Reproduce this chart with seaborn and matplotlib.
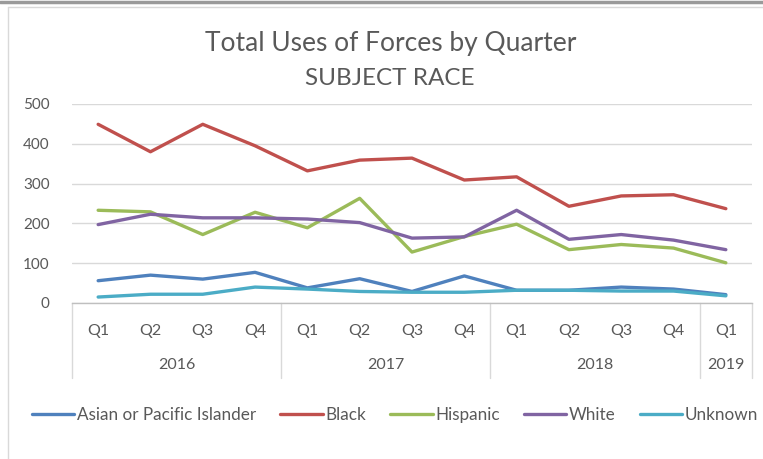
import matplotlib
matplotlib.use("Agg")
import matplotlib.pyplot as plt
import matplotlib.transforms as mtransforms
import pandas as pd
import seaborn as sns

quarters = ["Q1", "Q2", "Q3", "Q4"] * 3 + ["Q1"]
years = ["2016", "2017", "2018", "2019"]
year_sizes = [4, 4, 4, 1]

asian = [56, 70, 60, 77, 38, 61, 29, 68, 32, 32, 40, 35, 21]
black = [449, 380, 449, 395, 332, 359, 364, 309, 317, 243, 269, 272, 237]
hispanic = [233, 229, 172, 228, 189, 263, 128, 167, 198, 134, 147, 138, 101]
white = [197, 223, 214, 214, 211, 202, 163, 166, 233, 160, 172, 158, 134]
unknown = [15, 22, 22, 40, 35, 29, 27, 27, 32, 32, 30, 30, 18]

races = ["Asian or Pacific Islander", "Black", "Hispanic", "White", "Unknown"]
colors = ["#4F81BD", "#C0504D", "#9BBB59", "#8064A2", "#4BACC6"]

rows = []
for race, vals in zip(races, [asian, black, hispanic, white, unknown]):
    for i, v in enumerate(vals):
        rows.append({"idx": i, "count": v, "race": race})
df = pd.DataFrame(rows)

sns.set_theme(style="white")
plt.rcParams["font.family"] = ["Lato", "DejaVu Sans"]
txt = "#595959"

W, H = 763, 459
fig = plt.figure(figsize=(W / 100, H / 100), dpi=100)
fig.patch.set_facecolor("white")

# spreadsheet frame bits
fig.add_artist(plt.Line2D([0, 1], [1 - 1.5 / H, 1 - 1.5 / H], color="#9a9a9a", lw=2.5))
fig.add_artist(plt.Line2D([7.5 / W, 7.5 / W], [0, 1 - 7 / H], color="#d9d9d9", lw=1))
fig.add_artist(plt.Line2D([7.5 / W, 1], [1 - 7 / H, 1 - 7 / H], color="#d9d9d9", lw=1))

ax = fig.add_axes([72 / W, 1 - 303 / H, 680 / W, 199 / H])
sns.lineplot(data=df, x="idx", y="count", hue="race", hue_order=races,
             palette=dict(zip(races, colors)), linewidth=2.4, ax=ax, legend=True)

ax.set_xlim(-0.5, 12.5)
ax.set_ylim(0, 500)
ax.set_yticks(range(0, 501, 100))
ax.yaxis.grid(True, color="#d9d9d9", lw=1)
ax.set_axisbelow(True)
for s in ["top", "right", "left"]:
    ax.spines[s].set_visible(False)
ax.spines["bottom"].set_color("#bfbfbf")
ax.spines["bottom"].set_linewidth(1)
ax.tick_params(axis="y", length=0, labelsize=11, labelcolor=txt, pad=16)
ax.set_xticks(range(len(quarters)))
ax.set_xticklabels(quarters)
ax.tick_params(axis="x", length=0, labelsize=11.5, labelcolor=txt, pad=15)
ax.set_xlabel("")
ax.set_ylabel("")

# two-level category axis
trans = mtransforms.blended_transform_factory(ax.transData, ax.transAxes)
depth = 75 / 199
edges = [-0.5]
for n in year_sizes:
    edges.append(edges[-1] + n)
for e in edges:
    ax.plot([e, e], [0, -depth], color="#d9d9d9", lw=1, transform=trans, clip_on=False)
for y, a, b in zip(years, edges[:-1], edges[1:]):
    ax.text((a + b) / 2, -62 / 199, y, transform=trans, ha="center", va="center",
            fontsize=11.5, color=txt)

fig.text(391 / W, 1 - 43 / H, "Total Uses of Forces by Quarter", ha="center", va="center",
         fontsize=19, color=txt)
fig.text(390 / W, 1 - 78 / H, "SUBJECT RACE", ha="center", va="center",
         fontsize=17.5, color=txt)

handles, labels = ax.get_legend_handles_labels()
ax.legend_.remove()
fig.legend(handles, labels, loc="center", bbox_to_anchor=(395 / W, 1 - 415 / H), ncol=5,
           frameon=False, fontsize=12.3, handlelength=2.5, handletextpad=0.15,
           columnspacing=1.4, labelcolor=txt)

fig.savefig("out.png", dpi=100, facecolor="white")
